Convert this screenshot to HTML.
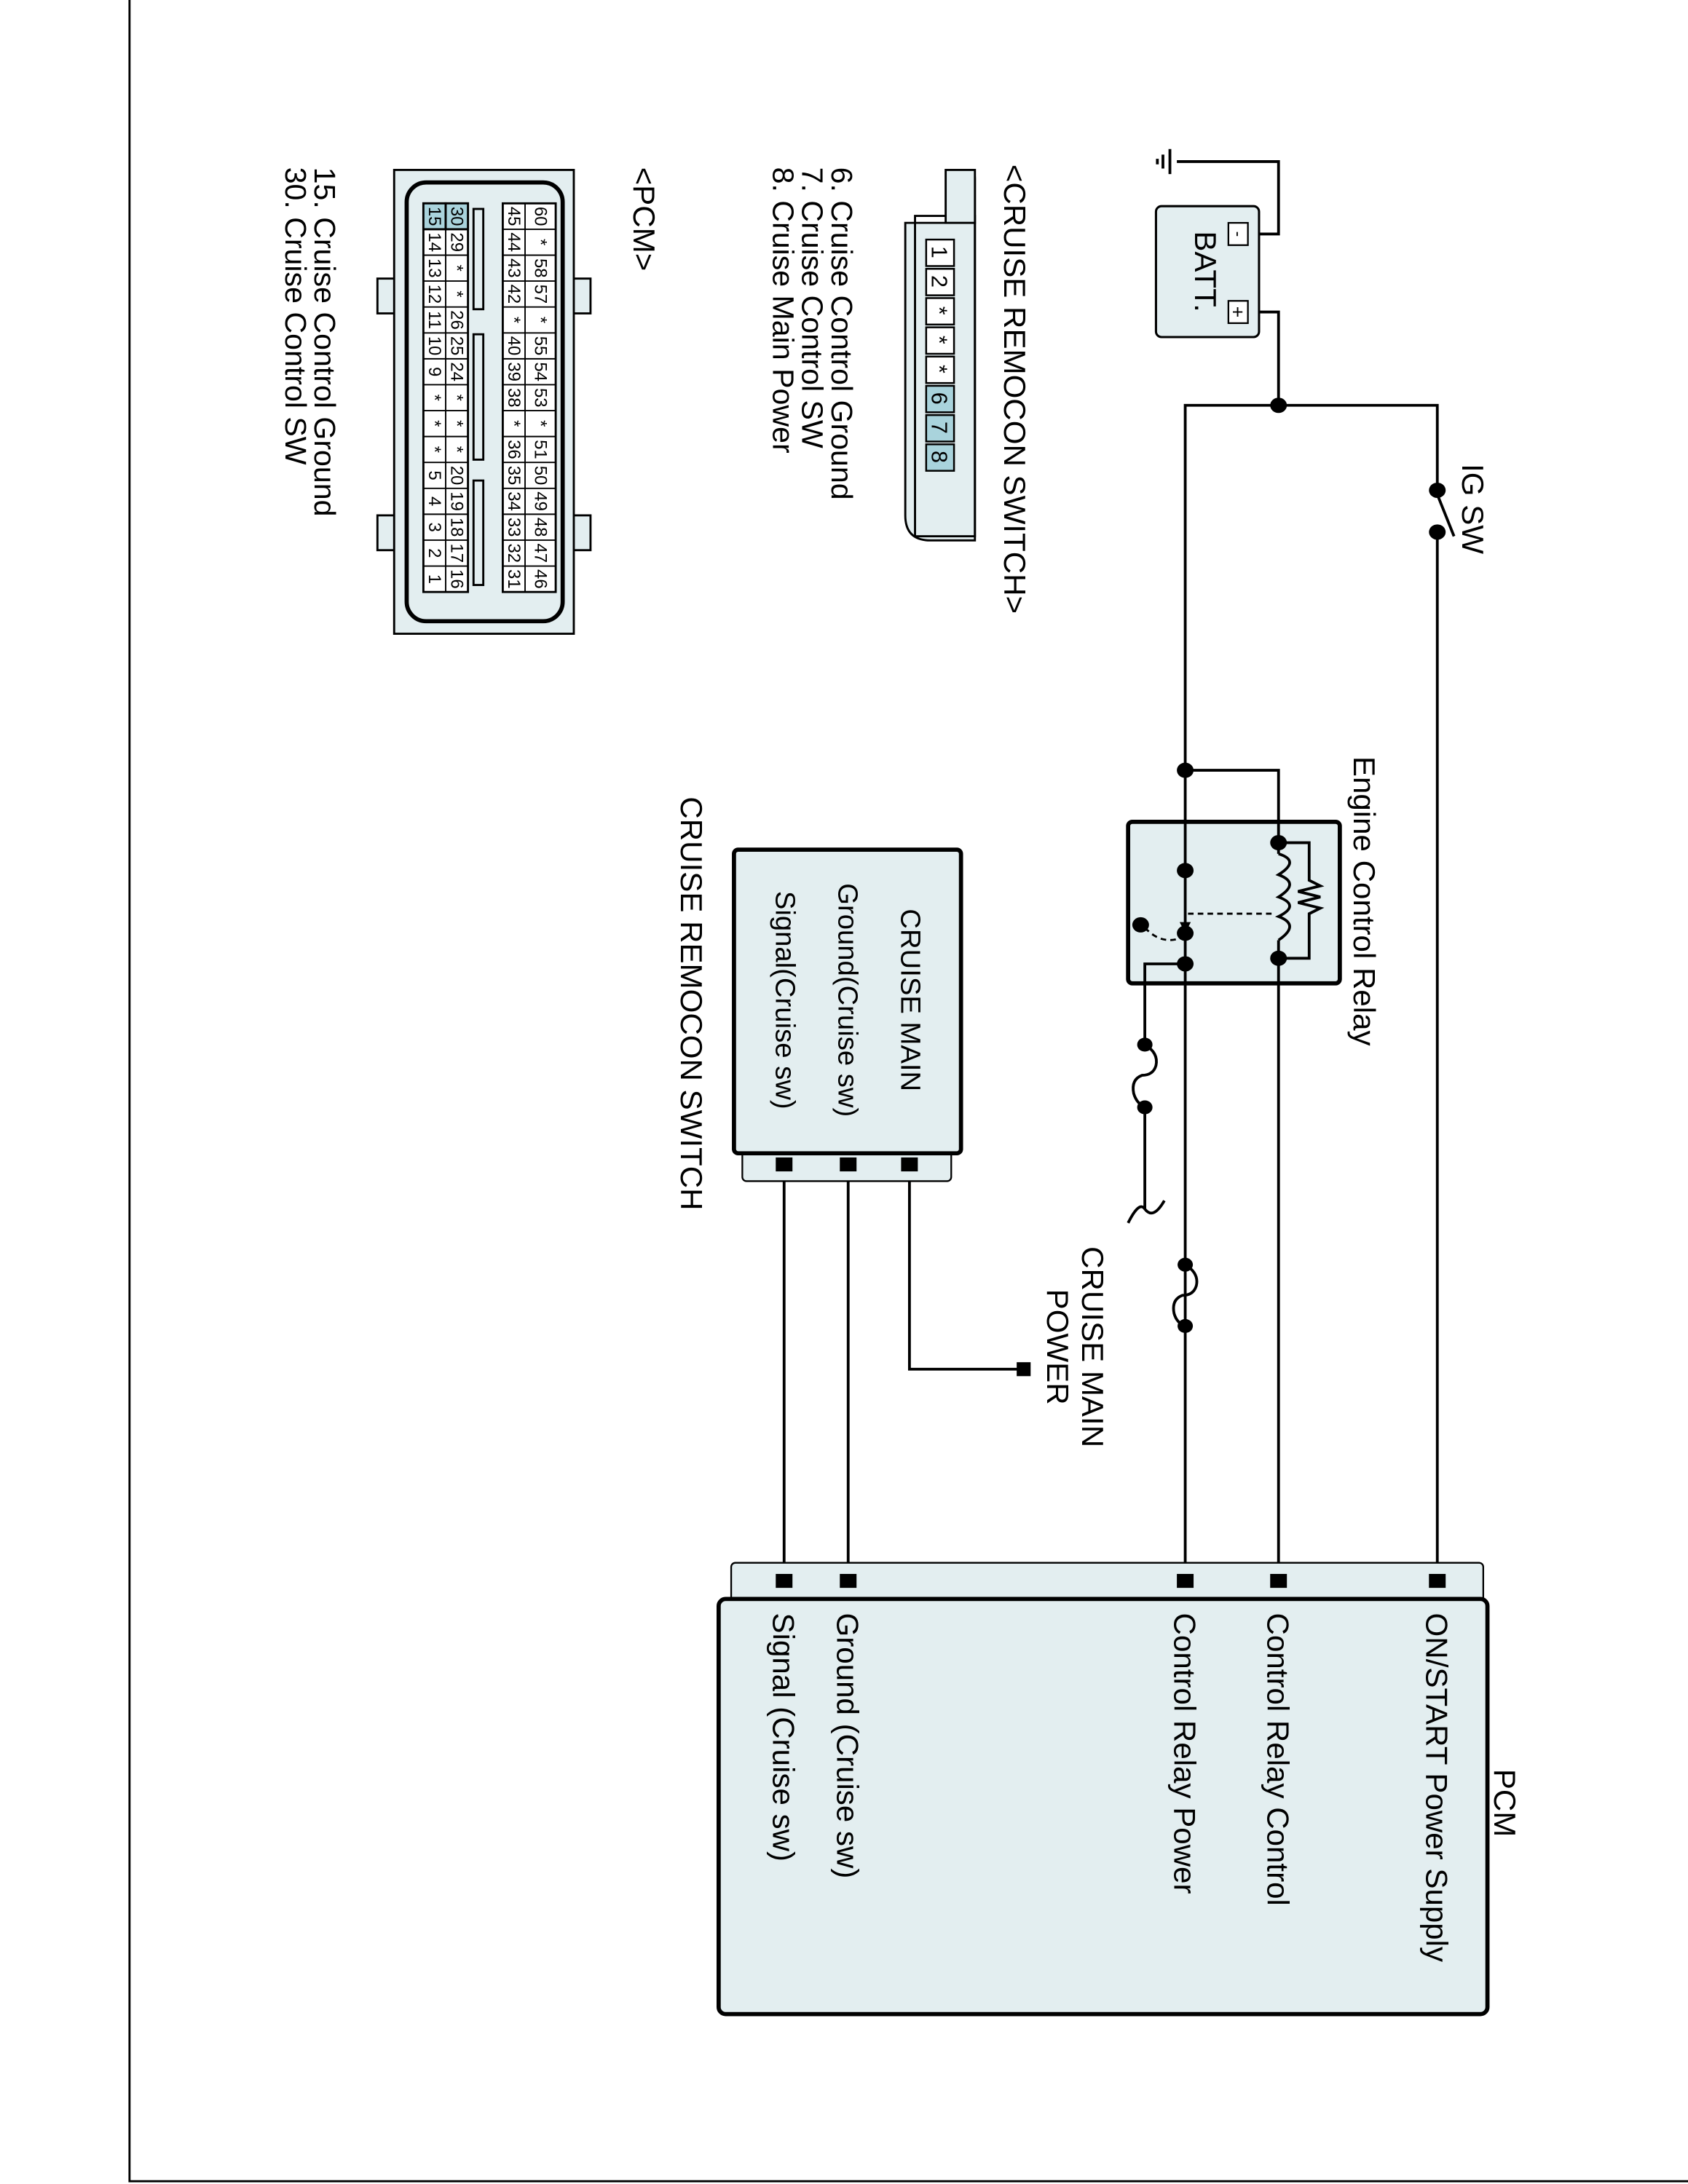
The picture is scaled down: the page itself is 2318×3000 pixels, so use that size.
<!DOCTYPE html>
<html><head><meta charset="utf-8"><style>
html,body{margin:0;padding:0;background:#fff}
svg{display:block}
text{font-family:"Liberation Sans",sans-serif;fill:#000}
</style></head><body>
<svg width="2318" height="3000" viewBox="0 0 1212 1568" preserveAspectRatio="none" xmlns="http://www.w3.org/2000/svg">
<rect x="93" y="-2" width="1125" height="1568" fill="none" stroke="#000" stroke-width="1.5"/>

<g fill="none" stroke="#000" stroke-width="2">
<path d="M845 116 H918 V168 H896"/>
<path d="M840 107 V125 M835 111 V121 M831 114 V118"/>
<path d="M896 224 H918 V291"/>
<path d="M851 1135 V291 H1032 V352 M1032 382 V1135"/>
<path d="M1032 355 L1044 385"/>
<path d="M851 553 H918 V1135"/>
<path d="M851 692 H822 V750"/>
<path d="M822 795 V868"/>
<path d="M810 878 Q818 862 822 868 Q828 876 836 862"/>
<path d="M653 836 V983 H735"/>
<path d="M609 836 V1135 M563 836 V1135"/>
<path d="M822 750 Q832 756 830 765 Q828 772 820 772 Q812 775 814 785 Q816 792 822 795"/>
<path d="M851 908 Q861 914 859 923 Q857 930 849 930 Q841 933 843 943 Q845 950 851 952"/>
</g>

<rect x="830" y="148" width="74" height="94" rx="4" fill="#e3eef0" stroke="#000" stroke-width="1.6"/>
<rect x="882" y="160" width="14" height="16" fill="#fff" stroke="#000" stroke-width="1.2"/>
<rect x="882" y="216" width="14" height="16" fill="#fff" stroke="#000" stroke-width="1.2"/>
<text transform="translate(885,168) rotate(90)" font-size="12" text-anchor="middle">-</text>
<text transform="translate(884,224) rotate(90)" font-size="14" text-anchor="middle">+</text>
<text transform="translate(858,195) rotate(90)" font-size="22" text-anchor="middle">BATT.</text>

<rect x="810" y="590" width="152" height="116" rx="3" fill="#e3eef0" stroke="#000" stroke-width="3"/>
<g fill="none" stroke="#000" stroke-width="2">
<path d="M851 590 V706 M918 590 V606 M918 688 V706"/>
<path d="M918 613 Q934 618 918 628 Q934 634 918 644 Q934 650 918 658 Q934 664 918 675 M918 606 V613 M918 675 V688"/>
<path d="M918 605 H940 V632 L948 636 L932 640 L948 644 L932 648 L948 652 L940 656 V688 H918"/>
<path d="M851 692 H822 V706"/>
</g>
<path d="M853 656 H916" stroke="#000" stroke-width="1.5" stroke-dasharray="4,3"/>
<path d="M822 666 Q835 680 851 672" fill="none" stroke="#000" stroke-width="1.5" stroke-dasharray="4,3"/>
<path d="M847 662 L855 662 L851 670 Z"/>
<g fill="#000">
<ellipse cx="918" cy="291" rx="6" ry="5.5"/>
<ellipse cx="851" cy="553" rx="6" ry="5.5"/>
<ellipse cx="1032" cy="352" rx="6" ry="5.5"/>
<ellipse cx="1032" cy="382" rx="6" ry="5.5"/>
<ellipse cx="918" cy="605" rx="6" ry="5.5"/>
<ellipse cx="918" cy="688" rx="6" ry="5.5"/>
<ellipse cx="851" cy="625" rx="6" ry="5.5"/>
<ellipse cx="851" cy="670" rx="6" ry="5.5"/>
<ellipse cx="851" cy="692" rx="6" ry="5.5"/>
<ellipse cx="819" cy="664" rx="6" ry="5.5"/>
<ellipse cx="822" cy="750" rx="5.5" ry="5"/>
<ellipse cx="822" cy="795" rx="5.5" ry="5"/>
<ellipse cx="851" cy="908" rx="5.5" ry="5"/>
<ellipse cx="851" cy="952" rx="5.5" ry="5"/>
</g>

<rect x="533" y="826" width="150" height="22" rx="3" fill="#e3eef0" stroke="#000" stroke-width="1.2"/>
<rect x="527" y="610" width="163" height="218" rx="3" fill="#e3eef0" stroke="#000" stroke-width="3"/>
<g fill="#000">
<rect x="647" y="831" width="12" height="10"/>
<rect x="603" y="831" width="12" height="10"/>
<rect x="557" y="831" width="12" height="10"/>
<rect x="730" y="978" width="10" height="10"/>
</g>
<text transform="translate(647,718) rotate(90)" font-size="20" text-anchor="middle">CRUISE MAIN</text>
<text transform="translate(602,718) rotate(90)" font-size="20" text-anchor="middle">Ground(Cruise sw)</text>
<text transform="translate(557,718) rotate(90)" font-size="20" text-anchor="middle">Signal(Cruise sw)</text>
<text transform="translate(489,572) rotate(90)" font-size="22">CRUISE REMOCON SWITCH</text>
<text transform="translate(777,967) rotate(90)" font-size="22" text-anchor="middle">CRUISE MAIN</text>
<text transform="translate(752,967) rotate(90)" font-size="22" text-anchor="middle">POWER</text>

<rect x="525" y="1122" width="540" height="28" rx="3" fill="#e3eef0" stroke="#000" stroke-width="1.2"/>
<rect x="516" y="1148" width="552" height="298" rx="5" fill="#e3eef0" stroke="#000" stroke-width="3"/>
<g fill="#000">
<rect x="1026" y="1130" width="12" height="10"/>
<rect x="912" y="1130" width="12" height="10"/>
<rect x="845" y="1130" width="12" height="10"/>
<rect x="603" y="1130" width="12" height="10"/>
<rect x="557" y="1130" width="12" height="10"/>
</g>
<text transform="translate(1073,1270) rotate(90)" font-size="22">PCM</text>
<text transform="translate(1024,1158) rotate(90)" font-size="22">ON/START Power Supply</text>
<text transform="translate(910,1158) rotate(90)" font-size="22">Control Relay Control</text>
<text transform="translate(843,1158) rotate(90)" font-size="22">Control Relay Power</text>
<text transform="translate(601,1158) rotate(90)" font-size="22">Ground (Cruise sw)</text>
<text transform="translate(555,1158) rotate(90)" font-size="22">Signal (Cruise sw)</text>

<text transform="translate(1050,333) rotate(90)" font-size="22">IG SW</text>
<text transform="translate(972,543) rotate(90)" font-size="22">Engine Control Relay</text>

<text transform="translate(721,118) rotate(90)" font-size="22">&lt;CRUISE REMOCON SWITCH&gt;</text>
<text transform="translate(597,120) rotate(90)" font-size="21.5">6. Cruise Control Ground</text>
<text transform="translate(576,120) rotate(90)" font-size="21.5">7. Cruise Control SW</text>
<text transform="translate(555,120) rotate(90)" font-size="21.5">8. Cruise Main Power</text>
<g stroke="#000" stroke-width="1.5" fill="#e3eef0">
<path d="M650 160 V370 Q650 388 668 388 H700 V128 Q700 122 694 122 H680 V160 Z"/>
<rect x="657" y="155" width="43" height="230" fill="none"/>
<rect x="679" y="122" width="21" height="38"/>
</g>
<g stroke="#000" stroke-width="1.3" fill="#fff">
<rect x="665" y="172" width="20" height="19"/><rect x="665" y="193" width="20" height="19"/>
<rect x="665" y="214" width="20" height="19"/><rect x="665" y="235" width="20" height="19"/>
<rect x="665" y="256" width="20" height="19"/>
<rect x="665" y="277" width="20" height="19" fill="#a9d3dc"/><rect x="665" y="298" width="20" height="19" fill="#a9d3dc"/>
<rect x="665" y="319" width="20" height="19" fill="#a9d3dc"/>
</g>
<g font-size="16" text-anchor="middle">
<text transform="translate(669,181) rotate(90)">1</text><text transform="translate(669,202) rotate(90)">2</text>
<text transform="translate(669,223) rotate(90)">*</text><text transform="translate(669,244) rotate(90)">*</text>
<text transform="translate(669,265) rotate(90)">*</text><text transform="translate(669,286) rotate(90)">6</text>
<text transform="translate(669,307) rotate(90)">7</text><text transform="translate(669,328) rotate(90)">8</text>
</g>

<text transform="translate(455,120) rotate(90)" font-size="22">&lt;PCM&gt;</text>
<text transform="translate(226,120) rotate(90)" font-size="21.5">15. Cruise Control Ground</text>
<text transform="translate(205,120) rotate(90)" font-size="21.5">30. Cruise Control SW</text>
<g stroke="#000" stroke-width="1.5" fill="#e3eef0">
<rect x="271" y="200" width="14" height="25"/><rect x="271" y="370" width="14" height="25"/>
<rect x="410" y="200" width="14" height="25"/><rect x="410" y="370" width="14" height="25"/>
<rect x="283" y="122" width="129" height="333"/>
<rect x="292" y="131" width="112" height="315" rx="14" stroke-width="3"/>
<rect x="340" y="150" width="7" height="72" fill="#e3eef0"/>
<rect x="340" y="240" width="7" height="90" fill="#e3eef0"/>
<rect x="340" y="345" width="7" height="75" fill="#e3eef0"/>
<rect x="304" y="146" width="32" height="279" fill="#fff"/>
<rect x="361" y="146" width="38" height="279" fill="#fff"/>
<rect x="304" y="146" width="16" height="18.6" fill="#a9d3dc"/>
<rect x="320" y="146" width="16" height="18.6" fill="#a9d3dc"/>
</g>
<path stroke="#000" stroke-width="1" fill="none" d="M320 146V425 M377 146V425
M304 164.6H336 M304 183.2H336 M304 201.8H336 M304 220.4H336 M304 239H336 M304 257.6H336 M304 276.2H336 M304 294.8H336 M304 313.4H336 M304 332H336 M304 350.6H336 M304 369.2H336 M304 387.8H336 M304 406.4H336
M361 164.6H399 M361 183.2H399 M361 201.8H399 M361 220.4H399 M361 239H399 M361 257.6H399 M361 276.2H399 M361 294.8H399 M361 313.4H399 M361 332H399 M361 350.6H399 M361 369.2H399 M361 387.8H399 M361 406.4H399"/>
<g font-size="12.5" text-anchor="middle">
<text transform="translate(384,155.3) rotate(90)">60</text><text transform="translate(384,173.9) rotate(90)">*</text><text transform="translate(384,192.5) rotate(90)">58</text><text transform="translate(384,211.1) rotate(90)">57</text><text transform="translate(384,229.7) rotate(90)">*</text><text transform="translate(384,248.3) rotate(90)">55</text><text transform="translate(384,266.9) rotate(90)">54</text><text transform="translate(384,285.5) rotate(90)">53</text><text transform="translate(384,304.1) rotate(90)">*</text><text transform="translate(384,322.7) rotate(90)">51</text><text transform="translate(384,341.3) rotate(90)">50</text><text transform="translate(384,359.9) rotate(90)">49</text><text transform="translate(384,378.5) rotate(90)">48</text><text transform="translate(384,397.1) rotate(90)">47</text><text transform="translate(384,415.7) rotate(90)">46</text>
<text transform="translate(365,155.3) rotate(90)">45</text><text transform="translate(365,173.9) rotate(90)">44</text><text transform="translate(365,192.5) rotate(90)">43</text><text transform="translate(365,211.1) rotate(90)">42</text><text transform="translate(365,229.7) rotate(90)">*</text><text transform="translate(365,248.3) rotate(90)">40</text><text transform="translate(365,266.9) rotate(90)">39</text><text transform="translate(365,285.5) rotate(90)">38</text><text transform="translate(365,304.1) rotate(90)">*</text><text transform="translate(365,322.7) rotate(90)">36</text><text transform="translate(365,341.3) rotate(90)">35</text><text transform="translate(365,359.9) rotate(90)">34</text><text transform="translate(365,378.5) rotate(90)">33</text><text transform="translate(365,397.1) rotate(90)">32</text><text transform="translate(365,415.7) rotate(90)">31</text>
<text transform="translate(324,155.3) rotate(90)">30</text><text transform="translate(324,173.9) rotate(90)">29</text><text transform="translate(324,192.5) rotate(90)">*</text><text transform="translate(324,211.1) rotate(90)">*</text><text transform="translate(324,229.7) rotate(90)">26</text><text transform="translate(324,248.3) rotate(90)">25</text><text transform="translate(324,266.9) rotate(90)">24</text><text transform="translate(324,285.5) rotate(90)">*</text><text transform="translate(324,304.1) rotate(90)">*</text><text transform="translate(324,322.7) rotate(90)">*</text><text transform="translate(324,341.3) rotate(90)">20</text><text transform="translate(324,359.9) rotate(90)">19</text><text transform="translate(324,378.5) rotate(90)">18</text><text transform="translate(324,397.1) rotate(90)">17</text><text transform="translate(324,415.7) rotate(90)">16</text>
<text transform="translate(308,155.3) rotate(90)">15</text><text transform="translate(308,173.9) rotate(90)">14</text><text transform="translate(308,192.5) rotate(90)">13</text><text transform="translate(308,211.1) rotate(90)">12</text><text transform="translate(308,229.7) rotate(90)">11</text><text transform="translate(308,248.3) rotate(90)">10</text><text transform="translate(308,266.9) rotate(90)">9</text><text transform="translate(308,285.5) rotate(90)">*</text><text transform="translate(308,304.1) rotate(90)">*</text><text transform="translate(308,322.7) rotate(90)">*</text><text transform="translate(308,341.3) rotate(90)">5</text><text transform="translate(308,359.9) rotate(90)">4</text><text transform="translate(308,378.5) rotate(90)">3</text><text transform="translate(308,397.1) rotate(90)">2</text><text transform="translate(308,415.7) rotate(90)">1</text>
</g>
</svg>
</body></html>
